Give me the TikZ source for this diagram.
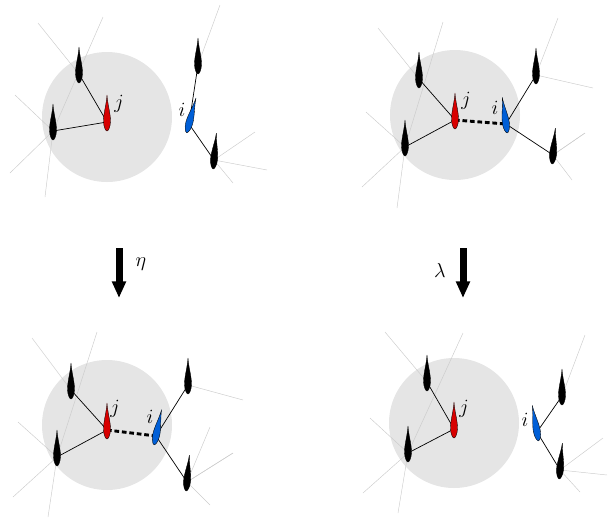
\documentclass[tikz,border=0pt]{standalone}
\usetikzlibrary{arrows.meta}
\definecolor{agentred}{RGB}{215,0,0}
\definecolor{agentblue}{RGB}{0,95,215}

\begin{document}
\begin{tikzpicture}[x=0.03cm, y=-0.03cm,
                        zone/.style={fill=gray!20},
                        link/.style={draw, line width=0.6pt},
                        faint/.style={draw, gray!40, line width=0.4pt},
                        bond/.style={draw, line width=2.5pt, dash pattern=on 4pt off 2.4pt},
                        lbl/.style={font=\fontsize{17}{20}\selectfont, inner sep=0pt},
                        bigarrow/.style={line width=0.21cm, -{Triangle[width=0.4cm, length=0.5cm]}},
                        pics/agent/.style={code={
                            \path[fill=#1, draw=black, line width=0.3pt]
                            (0,-27) .. controls (0.5,-18) and (3.5,-9) .. (3.5,-1)
                            .. controls (3.5,5) and (1.3,9) .. (0,9)
                            .. controls (-1.3,9) and (-3.5,5) .. (-3.5,-1)
                            .. controls (-3.5,-9) and (-0.5,-18) .. (0,-27) -- cycle;}},
                        pics/agent/.default=black]
                \useasboundingbox (0,0) rectangle (608,519);

                % Define zones
                \fill[zone] (107,117) circle (1.95cm);
                \fill[zone] (455,115) circle (1.95cm);
                \fill[zone] (107,425) circle (1.95cm);
                \fill[zone] (454,423) circle (1.95cm);

                % Define agents (top left)
                \coordinate (aJ) at (107,122);
                \coordinate (aI) at (189,124);
                \coordinate (aA) at (79,74);
                \coordinate (aB) at (53,131);
                \coordinate (aC) at (198,65);
                \coordinate (aD) at (214,160);
                % Define agents (top right)
                \coordinate (bJ) at (455,120);
                \coordinate (bI) at (506,124);
                \coordinate (bA) at (419,79);
                \coordinate (bB) at (405,147);
                \coordinate (bC) at (536,75);
                \coordinate (bD) at (553,155);
                % Define agents (bottom left)
                \coordinate (cJ) at (107,430);
                \coordinate (cI) at (156,436);
                \coordinate (cA) at (71,390);
                \coordinate (cB) at (57,457);
                \coordinate (cC) at (188,385);
                \coordinate (cD) at (187,482);
                % Define agents (bottom right)
                \coordinate (dJ) at (454,429);
                \coordinate (dI) at (537,432);
                \coordinate (dA) at (427,382);
                \coordinate (dB) at (408,453);
                \coordinate (dC) at (562,396);
                \coordinate (dD) at (560,470);

                % Define far ends of faint links
                \foreach \n/\x/\y in {a1/38/23, a2/103/17, a3/45/197, a4/15/95, a5/10/173,
                                      a6/220/5, a7/255/132, a8/267/170, a9/233/183,
                                      b1/378/28, b2/443/22, b3/397/208, b4/366/112, b5/362/187,
                                      b6/558/18, b7/593/88, b8/585/133, b9/572/180,
                                      c1/32/338, c2/97/332, c3/48/517, c4/18/422, c5/13/497,
                                      c6/243/400, c7/210/427, c8/233/453, c9/210/505,
                                      d1/385/332, d2/463/333, d3/398/513, d4/370/418, d5/363/493,
                                      d6/585/335, d7/603/438, d8/607/475, d9/580/492}
                    \coordinate (\n) at (\x,\y);

                % Faint links
                \foreach \p in {a,b,c,d} {
                    \path[faint] (\p1) -- (\p A);
                    \path[faint] (\p2) -- (\p B) -- (\p3);
                    \path[faint] (\p4) -- (\p B) -- (\p5);
                    \path[faint] (\p C) -- (\p6);
                    \path[faint] (\p D) -- (\p8);
                    \path[faint] (\p D) -- (\p9);
                }
                \path[faint] (aD) -- (a7);
                \path[faint] (bC) -- (b7);
                \path[faint] (bD) -- (b8);
                \path[faint] (c7) -- (cD);
                \path[faint] (cD) -- (c8);
                \path[faint] (dD) -- (d7);

                % Define links
                \foreach \p in {a,b,c,d} {
                    \path[link] (\p A) -- (\p J);
                    \path[link] (\p B) -- (\p J);
                    \path[link] (\p I) -- (\p C);
                    \path[link] (\p I) -- (\p D);
                }
                \path[bond] (bJ) -- (bI);
                \path[bond] (cJ) -- (cI);

                % Draw agents
                \foreach \p in {a,b,c,d} {
                    \pic at (\p A) {agent};
                    \pic at (\p B) {agent};
                    \pic at (\p C) {agent};
                    \pic[rotate=-5] at (\p D) {agent};
                    \pic at (\p J) {agent=agentred};
                }
                \pic[rotate=-15] at (aI) {agent=agentblue};
                \pic[rotate=8] at (bI) {agent=agentblue};
                \pic[rotate=-12] at (cI) {agent=agentblue};
                \pic[rotate=10] at (dI) {agent=agentblue};

                % Labels
                \node[lbl] (aJl) at (119,104) {$j$};
                \node[lbl] (aIl) at (182,110) {$i$};
                \node[lbl] (bJl) at (466,101) {$j$};
                \node[lbl] (bIl) at (495,108) {$i$};
                \node[lbl] (cJl) at (115,409) {$j$};
                \node[lbl] (cIl) at (150,417) {$i$};
                \node[lbl] (dJl) at (464,409) {$j$};
                \node[lbl] (dIl) at (525,420) {$i$};

                % Transitions
                \coordinate (etaTop) at (119,248);
                \coordinate (etaBot) at (119,298);
                \coordinate (lamTop) at (463,248);
                \coordinate (lamBot) at (463,298);
                \draw[bigarrow] (etaTop) -- (etaBot);
                \draw[bigarrow] (lamTop) -- (lamBot);
                \node[lbl] (eta) at (141,264) {$\eta$};
                \node[lbl] (lam) at (440,270) {$\lambda$};
                \end{tikzpicture}
\end{document}
